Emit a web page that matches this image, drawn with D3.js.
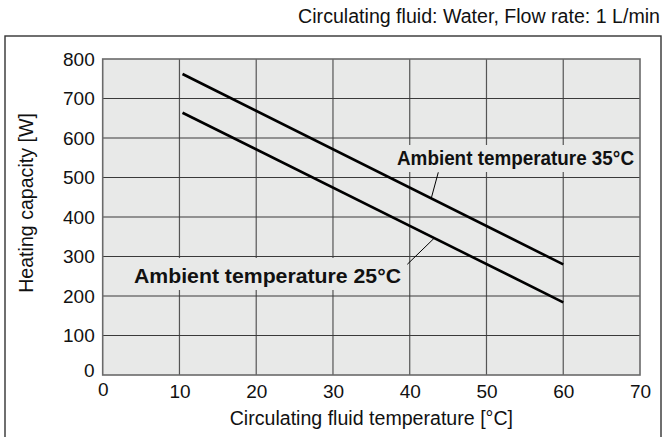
<!DOCTYPE html>
<meta charset="utf-8">
<style>
    body { margin: 0; background: #fff; }
    text { font-family: "Liberation Sans", Arial, sans-serif; fill: #111; }
    .grid line { stroke: #3a3a3a; stroke-width: 1.2px; }
    .curve { fill: none; stroke: #000; stroke-width: 2.6px; }
    .leader { stroke: #000; stroke-width: 1px; }
</style>
<svg width="663" height="437"></svg>
<script src="https://d3js.org/d3.v7.min.js"></script>
<script>

    // chart data
    var xTicks = [0, 10, 20, 30, 40, 50, 60, 70];
    var yTicks = [0, 100, 200, 300, 400, 500, 600, 700, 800];
    var fluidTemp = [10.4, 60];
    var ambient35 = [762, 280];
    var ambient25 = [664, 184];

    var svg = d3.select("svg");

    var plotL = 102.7, plotR = 640, plotT = 59, plotB = 375;

    var x = d3.scaleLinear().domain([0, 70]).range([plotL, plotR]);
    var y = d3.scaleLinear().domain([0, 800]).range([plotB, plotT]);

    // outer frame (runs off the bottom of the picture)
    svg.append("rect")
        .attr("x", 5).attr("y", 36)
        .attr("width", 656).attr("height", 420)
        .attr("fill", "none")
        .attr("stroke", "#333")
        .attr("stroke-width", 1.4);

    svg.append("text")
        .attr("x", 660).attr("y", 23)
        .attr("text-anchor", "end")
        .style("font-size", "19.6px")
        .text("Circulating fluid: Water, Flow rate: 1 L/min");

    // plot background
    svg.append("rect")
        .attr("x", plotL).attr("y", plotT)
        .attr("width", plotR - plotL).attr("height", plotB - plotT)
        .attr("fill", "#e8e9e8");

    var grid = svg.append("g").attr("class", "grid");
    grid.selectAll(".v").data(xTicks.slice(1, -1)).enter().append("line")
        .attr("x1", function(d) { return x(d); })
        .attr("x2", function(d) { return x(d); })
        .attr("y1", plotT).attr("y2", plotB)
        .style("stroke", "#555");
    grid.selectAll(".h").data(yTicks.slice(1, -1)).enter().append("line")
        .attr("y1", function(d) { return y(d); })
        .attr("y2", function(d) { return y(d); })
        .attr("x1", plotL).attr("x2", plotR);

    svg.append("rect")
        .attr("x", plotL).attr("y", plotT)
        .attr("width", plotR - plotL).attr("height", plotB - plotT)
        .attr("fill", "none")
        .attr("stroke", "#6a6a6a")
        .attr("stroke-width", 1.6);

    // axes
    var xAxis = svg.append("g")
        .attr("transform", "translate(0," + plotB + ")")
        .call(d3.axisBottom(x).tickValues(xTicks).tickSize(0).tickPadding(10));
    var yAxis = svg.append("g")
        .attr("transform", "translate(" + plotL + ",0)")
        .call(d3.axisLeft(y).tickValues(yTicks).tickSize(0).tickPadding(8));
    [xAxis, yAxis].forEach(function(g) {
        g.select(".domain").remove();
        g.selectAll("text")
            .style("font-size", "19px")
            .style("font-family", "'Liberation Sans', Arial, sans-serif")
            .attr("fill", "#111");
    });
    yAxis.selectAll(".tick").filter(function(d) { return d === 0; })
        .select("text").attr("dy", "0.1em");
    xAxis.selectAll(".tick").filter(function(d) { return d === 0; })
        .select("text").attr("dy", "0.6em");

    svg.append("text")
        .attr("x", (plotL + plotR) / 2).attr("y", 425)
        .attr("text-anchor", "middle")
        .style("font-size", "19.6px")
        .text("Circulating fluid temperature [°C]");

    svg.append("text")
        .attr("transform", "translate(33," + ((plotT + plotB) / 2 - 14) + ") rotate(-90)")
        .attr("text-anchor", "middle")
        .style("font-size", "19.6px")
        .text("Heating capacity [W]");

    // curves
    var line = d3.line()
        .x(function(d) { return x(d[0]); })
        .y(function(d) { return y(d[1]); });

    [ambient35, ambient25].forEach(function(vals) {
        svg.append("path")
            .attr("class", "curve")
            .attr("d", line(fluidTemp.map(function(t, i) { return [t, vals[i]]; })));
    });

    function onLine(vals, t) {
        var k = (vals[1] - vals[0]) / (fluidTemp[1] - fluidTemp[0]);
        return vals[0] + k * (t - fluidTemp[0]);
    }

    // annotations
    function label(txt, tx, ty, width, box, from, to) {
        svg.append("rect")
            .attr("x", box[0]).attr("y", box[1])
            .attr("width", box[2]).attr("height", box[3])
            .attr("fill", "#e8e9e8");
        svg.append("line").attr("class", "leader")
            .attr("x1", from[0]).attr("y1", from[1])
            .attr("x2", to[0]).attr("y2", to[1]);
        svg.append("text")
            .attr("x", tx).attr("y", ty)
            .attr("textLength", width)
            .attr("lengthAdjust", "spacingAndGlyphs")
            .style("font-size", "20.5px")
            .style("font-weight", "bold")
            .text(txt);
    }

    label("Ambient temperature 35°C", 397, 165, 237,
        [393, 145, 245, 27],
        [438.3, 172.3], [x(42.8), y(onLine(ambient35, 42.8))]);

    label("Ambient temperature 25°C", 134, 283, 267,
        [130, 258, 274, 32],
        [407.3, 264.3], [x(43.2), y(onLine(ambient25, 43.2))]);

</script>
